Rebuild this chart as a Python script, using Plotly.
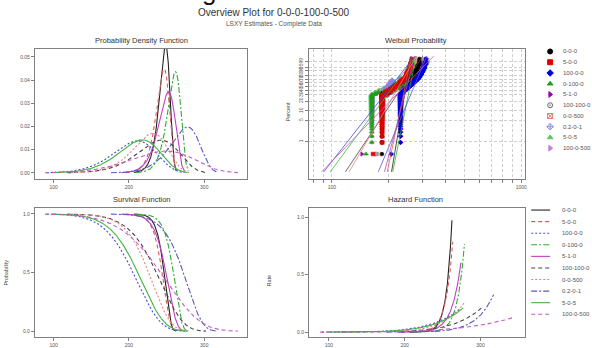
import numpy as np
import plotly.graph_objects as go

W, H = 592, 348

# ---------------- data ----------------
series = ["0-0-0", "5-0-0", "100-0-0", "0-100-0", "5-1-0",
          "100-100-0", "0-0-500", "0.2-0-1", "5-0-5", "100-0-500"]

# fitted Weibull parameters (LSXY)
shape = [37, 30, 8.0, 31, 24, 9.4, 10.8, 15, 8.5, 6.5]
scale = [249, 247, 215, 262, 253, 246, 234, 279, 221, 256]

# failure times (distinct values) and how many units failed at each value
times_000 = [200, 184, 236, 242, 248, 254, 260, 266, 272, 278, 284, 290]
counts_000 = [1, 60, 10, 10, 12, 14, 16, 16, 14, 12, 10, 5]
times_500 = [165, 184, 192, 198, 204, 210, 216, 222, 228, 234, 240, 244, 248, 252, 256, 260, 264]
counts_500 = [1, 54, 8, 8, 8, 8, 8, 8, 8, 8, 8, 10, 12, 12, 10, 6, 3]
times_1000 = [206, 230, 236, 242, 248, 254, 260, 266, 272, 278, 284, 290, 296, 302, 308, 314]
counts_1000 = [1, 58, 8, 8, 8, 8, 8, 8, 8, 8, 10, 12, 12, 10, 8, 5]
times_0100 = [152, 163, 170, 176, 190, 200, 210, 220, 228, 236, 242, 248, 252, 256, 260, 264]
counts_0100 = [1, 54, 5, 5, 6, 6, 6, 6, 8, 10, 12, 14, 14, 14, 12, 7]
times_510 = [144, 233, 240, 246, 252, 258, 264, 270, 276, 282, 288, 294, 300, 306, 310]
counts_510 = [1, 60, 8, 8, 8, 8, 8, 10, 10, 12, 14, 14, 10, 7, 2]
times_1001000 = [172, 184, 195, 205, 215, 225, 235, 245, 255, 265, 275, 285, 295]
counts_1001000 = [1, 50, 10, 10, 10, 10, 12, 14, 16, 16, 14, 10, 7]
times_00500 = [178, 186, 196, 206, 216, 226, 236, 246, 254, 262, 270, 278, 286]
counts_00500 = [1, 52, 10, 10, 10, 10, 12, 14, 16, 16, 14, 10, 5]
times_0201 = [170, 184, 188, 192, 196, 200, 204, 208, 230, 250, 270, 290, 305, 318]
counts_0201 = [1, 60, 10, 10, 10, 10, 10, 10, 10, 12, 14, 12, 8, 3]
times_505 = [150, 161, 168, 176, 186, 196, 206, 216, 226, 236, 244, 252, 258, 264, 270]
counts_505 = [1, 55, 8, 8, 8, 8, 8, 8, 10, 12, 14, 14, 12, 8, 6]
times_1000500 = [144, 164, 172, 180, 190, 200, 212, 224, 236, 248, 260, 272, 284, 296, 306, 316]
counts_1000500 = [1, 56, 8, 8, 8, 8, 8, 10, 10, 12, 12, 12, 10, 8, 6, 3]

times = [times_000, times_500, times_1000, times_0100, times_510,
         times_1001000, times_00500, times_0201, times_505, times_1000500]
counts = [counts_000, counts_500, counts_1000, counts_0100, counts_510,
          counts_1001000, counts_00500, counts_0201, counts_505, counts_1000500]

pct_ticks = [1, 5, 10, 20, 30, 40, 50, 60, 70, 80, 90, 95, 99]
wb_x_ticks = [80, 90, 100, 200, 300, 400, 500, 600, 700, 800, 900, 1000]
wb_x_labels = ["", "", "100", "", "", "", "", "", "", "", "", "1000"]

# ---------------- styles ----------------
FONT = "Liberation Sans, Arial, sans-serif"
line_colors = ["#222222", "#e05a5a", "#4a4ad8", "#2fae2f", "#c040c0",
               "#444444", "#e88080", "#5858c8", "#3cb43c", "#c45ac4"]
line_dash = ["solid", "4px,3px", "2px,2px", "6px,2px,2px,2px", "solid",
             "4px,3px", "2px,2px", "6px,2px,2px,2px", "solid", "4px,3px"]
marker_colors = ["#000000", "#e00000", "#0000e0", "#1f9f1f", "#9a00b8",
                 "#666666", "#e07a7a", "#8a8ae8", "#5cc85c", "#c77ae0"]
marker_symbols = ["circle", "square", "diamond", "triangle-up", "triangle-right",
                  "circle-open-dot", "square-x-open", "diamond-cross-open",
                  "triangle-up", "triangle-right"]
point_draw_order = [9, 8, 7, 6, 5, 0, 4, 3, 1, 2]


def fx(px):
    return px / W


def fy(py):
    return 1 - py / H


fig = go.Figure()

P_LO, P_HI = 0.001, 0.999

# ---- Weibull probability points ----
for k in point_draw_order:
    t = np.sort(np.repeat(np.array(times[k], float), counts[k]))
    n = len(t)
    i = np.arange(1, n + 1)
    p = (i - 0.3) / (n + 0.4)
    w = np.log(-np.log(1 - p))
    fig.add_trace(go.Scatter(
        x=t, y=w, mode="markers", xaxis="x2", yaxis="y2", showlegend=False,
        marker=dict(symbol=marker_symbols[k], color=marker_colors[k], size=3.6,
                    line=dict(width=0.6, color=marker_colors[k]))))

for k in range(len(series)):
    b, e = shape[k], scale[k]
    q_lo = e * (-np.log(1 - P_LO)) ** (1 / b)
    q_hi = e * (-np.log(1 - P_HI)) ** (1 / b)
    tt = np.array([q_lo, q_hi])
    fig.add_trace(go.Scatter(
        x=tt, y=b * np.log(tt / e), mode="lines", xaxis="x2", yaxis="y2",
        showlegend=False, line=dict(color=line_colors[k], width=0.8)))

# ---- PDF, survival, hazard curves ----
for k in range(len(series)):
    b, e = shape[k], scale[k]
    q_lo = e * (-np.log(1 - P_LO)) ** (1 / b)
    q_hi = e * (-np.log(1 - P_HI)) ** (1 / b)
    t = np.linspace(q_lo, q_hi, 400)
    z = (t / e) ** b
    pdf = (b / e) * (t / e) ** (b - 1) * np.exp(-z)
    surv = np.exp(-z)
    haz = (b / e) * (t / e) ** (b - 1)
    ls = dict(color=line_colors[k], width=1.1, dash=line_dash[k])
    fig.add_trace(go.Scatter(x=t, y=pdf, mode="lines", xaxis="x", yaxis="y",
                             showlegend=False, line=ls))
    fig.add_trace(go.Scatter(x=t, y=surv, mode="lines", xaxis="x3", yaxis="y3",
                             showlegend=False, line=ls))
    fig.add_trace(go.Scatter(x=t, y=haz, mode="lines", xaxis="x4", yaxis="y4",
                             showlegend=False, line=ls))

# ---- legends (drawn on a hidden full-page pixel axis) ----
leg1_y0, leg1_dy = 52.7, 11.0
leg2_y0, leg2_dy = 215.0, 11.85
annotations = []
for k, name in enumerate(series):
    yy = leg1_y0 + k * leg1_dy
    fig.add_trace(go.Scatter(
        x=[552], y=[yy], mode="markers", xaxis="x5", yaxis="y5", showlegend=False,
        marker=dict(symbol=marker_symbols[k], color=marker_colors[k], size=5,
                    line=dict(width=1, color=marker_colors[k]))))
    annotations.append(dict(x=fx(563), y=fy(yy), xref="paper", yref="paper",
                            text=name, showarrow=False, xanchor="left", yanchor="middle",
                            font=dict(size=6, color="#555555", family=FONT)))
    yy2 = leg2_y0 + k * leg2_dy
    fig.add_trace(go.Scatter(
        x=[533, 552], y=[yy2, yy2], mode="lines", xaxis="x5", yaxis="y5",
        showlegend=False, line=dict(color=line_colors[k], width=1.1, dash=line_dash[k])))
    annotations.append(dict(x=fx(562), y=fy(yy2), xref="paper", yref="paper",
                            text=name, showarrow=False, xanchor="left", yanchor="middle",
                            font=dict(size=6, color="#555555", family=FONT)))


def txt(x, y, s, size, color="#333333", angle=0):
    annotations.append(dict(x=fx(x), y=fy(y), xref="paper", yref="paper", text=s,
                            showarrow=False, xanchor="center", yanchor="middle",
                            textangle=angle, font=dict(size=size, color=color, family=FONT)))


txt(210, -9, "g", 26, "#111111")
txt(275, 13, "Overview Plot for 0-0-0-100-0-500", 10, "#333333")
txt(275, 25, "LSXY Estimates - Complete Data", 6.5, "#555555")
txt(142, 41.5, "Probability Density Function", 7.5)
txt(417, 41.5, "Weibull Probability", 7.5)
txt(142, 204, "Survival Function", 7.5)
txt(417, 204, "Hazard Function", 7.5)
txt(289, 115, "Percent", 5.5, "#444444", -90)
txt(6, 279, "Probability", 5.5, "#444444", -90)
txt(270, 287, "Rate", 5.5, "#444444", -90)

# ---------------- axes ----------------
base = dict(showline=True, mirror=True, linecolor="#808080", linewidth=1,
            ticks="outside", ticklen=3, tickcolor="#808080", tickwidth=1,
            showgrid=False, zeroline=False,
            tickfont=dict(size=5, color="#555555", family=FONT))

xr = [75, 357]
fig.update_layout(
    width=W, height=H, margin=dict(l=0, r=0, t=0, b=0),
    paper_bgcolor="white", plot_bgcolor="rgba(0,0,0,0)", showlegend=False,
    font=dict(family=FONT),
    xaxis=dict(base, domain=[fx(35), fx(248)], anchor="y", range=xr,
               tickvals=[100, 200, 300]),
    yaxis=dict(base, domain=[fy(183), fy(50)], anchor="x", range=[-0.0025, 0.0534],
               tickvals=[0, 0.01, 0.02, 0.03, 0.04, 0.05],
               ticktext=["0.00", "0.01", "0.02", "0.03", "0.04", "0.05"]),
    xaxis2=dict(base, domain=[fx(310), fx(527)], anchor="y2", type="log",
                range=[np.log10(75.7), np.log10(1050)],
                tickvals=wb_x_ticks, ticktext=wb_x_labels,
                showgrid=True, gridcolor="#cfcfcf", griddash="3px,2px", gridwidth=1),
    yaxis2=dict(base, domain=[fy(183), fy(50)], anchor="x2", range=[-7.44, 2.49],
                tickvals=[float(np.log(-np.log(1 - q / 100))) for q in pct_ticks],
                ticktext=[str(q) for q in pct_ticks], tickangle=-90,
                showgrid=True, gridcolor="#cfcfcf", griddash="3px,2px", gridwidth=1),
    xaxis3=dict(base, domain=[fx(35), fx(248)], anchor="y3", range=xr,
                tickvals=[100, 200, 300]),
    yaxis3=dict(base, domain=[fy(345), fy(213)], anchor="x3", range=[-0.05, 1.05],
                tickvals=[0, 0.5, 1.0], ticktext=["0.0", "0.5", "1.0"]),
    xaxis4=dict(base, domain=[fx(310), fx(527)], anchor="y4", range=[73.7, 359],
                tickvals=[100, 200, 300]),
    yaxis4=dict(base, domain=[fy(345), fy(213)], anchor="x4", range=[-0.043, 1.08],
                tickvals=[0, 0.5, 1.0], ticktext=["0.0", "0.5", "1.0"]),
    xaxis5=dict(domain=[0, 1], anchor="y5", range=[0, W], visible=False, fixedrange=True),
    yaxis5=dict(domain=[0, 1], anchor="x5", range=[H, 0], visible=False, fixedrange=True),
    annotations=annotations,
)

fig.write_html("out.html", config={"displayModeBar": False},
               post_script="document.body.style.margin='0px';document.body.style.overflow='hidden';")
